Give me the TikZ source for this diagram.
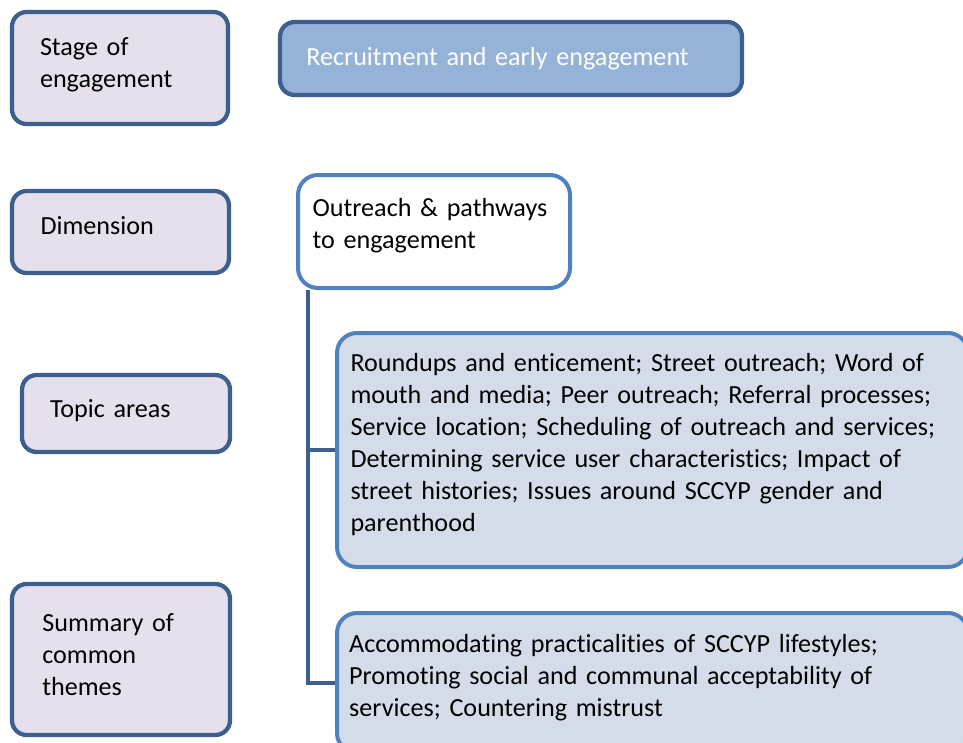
\documentclass[tikz,border=0pt]{standalone}
\usepackage{fontspec}
\setmainfont{Carlito}[Ligatures=NoCommon]
\definecolor{darkedge}{HTML}{3D5F8E}
\definecolor{lightedge}{HTML}{4F81BD}
\definecolor{lavender}{HTML}{E5E0EC}
\definecolor{stageblue}{HTML}{95B3D7}
\definecolor{paleblue}{HTML}{D4DCEA}
\newcommand{\lift}[1]{\rule[-#1]{0pt}{#1}}
\begin{document}
\begin{tikzpicture}[x=0.75pt,y=0.75pt,yscale=-1,
    font=\fontsize{19.6}{24}\selectfont,
    labelbox/.style={draw=darkedge,fill=lavender,line width=3.2pt,rounded corners=11pt,
        inner xsep=21pt,align=left},
    stagebox/.style={draw=darkedge,fill=stageblue,line width=3.2pt,rounded corners=11pt,
        inner xsep=19.5pt,align=left,text=white},
    itembox/.style={draw=lightedge,fill=paleblue,line width=3pt,rounded corners=15pt,
        inner xsep=10pt,align=left},
    trunk/.style={draw=darkedge,line width=3pt}]
\useasboundingbox (0,0) rectangle (963,742);
% Left column
\node[labelbox,minimum width=162pt,minimum height=84pt,text width=120pt] (stage) at (120,68) {Stage of\\engagement\lift{7.5pt}};
\node[labelbox,minimum width=162.75pt,minimum height=61.5pt,text width=120pt] (dimension) at (120.5,232) {Dimension\lift{9pt}};
\node[labelbox,minimum width=156pt,minimum height=57.75pt,text width=114pt] (topics) at (126,413.5) {Topic areas\lift{7.5pt}};
\node[labelbox,minimum width=163.5pt,minimum height=113.25pt,text width=118pt,inner xsep=22.5pt] (summary) at (121,659.5) {Summary of\\common\\themes\lift{7.5pt}};
% Right column
\node[stagebox,minimum width=346.5pt,minimum height=54.75pt,text width=307pt] (recruit) at (511,58.5) {Recruitment and early engagement};
\node[itembox,fill=white,minimum width=204pt,minimum height=84.75pt,text width=182pt,inner xsep=10.5pt] (outreach) at (434,231.5) {Outreach \& pathways\\to engagement\lift{12pt}};
\node[itembox,minimum width=473.25pt,minimum height=175.5pt,text width=453pt] (topiclist) at (652.5,450)
    {Roundups and enticement; Street outreach; Word of\\
     mouth and media; Peer outreach; Referral processes;\\
     Service location; Scheduling of outreach and services;\\
     Determining service user characteristics; Impact of\\
     street histories; Issues around SCCYP gender and\\
     parenthood\lift{12pt}};
\node[itembox,minimum width=473.25pt,minimum height=105pt,text width=455pt,inner xsep=9pt] (themelist) at (652.5,683)
    {Accommodating practicalities of SCCYP lifestyles;\\
     Promoting social and communal acceptability of\\
     services; Countering mistrust\lift{12pt}};
% Connectors
\coordinate (fork) at ([xshift=9pt]outreach.south west);
\draw[trunk] (fork) |- (themelist.west);
\draw[trunk] (fork |- topiclist.west) -- (topiclist.west);
\end{tikzpicture}
\end{document}
